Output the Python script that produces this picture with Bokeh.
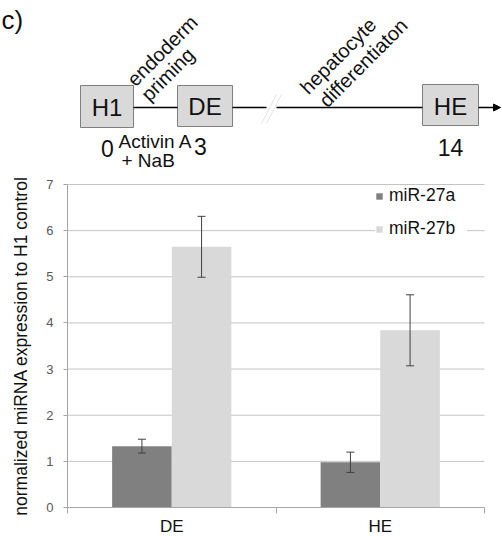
import numpy as np
from bokeh.plotting import figure
from bokeh.models import (Range1d, ColumnDataSource, Whisker, TeeHead, Legend, LegendItem,
                          FixedTicker, Arrow, NormalHead, LinearAxis)
from bokeh.core.properties import value
from bokeh.embed import file_html
from bokeh.resources import INLINE

# ---------------- data ----------------
categories = ["DE", "HE"]
mir27a = [1.33, 0.98]
mir27a_err = [0.15, 0.22]
mir27b = [5.65, 3.84]
mir27b_err = [0.66, 0.77]
y_ticks = [0, 1, 2, 3, 4, 5, 6, 7]
series_names = ["miR-27a", "miR-27b"]

stages = ["H1", "DE", "HE"]
days = ["0", "3", "14"]
step_labels = ["endoderm", "priming", "hepatocyte", "differentiaton"]
treatment = ["Activin A", "+ NaB"]

FNAME = "Liberation Sans"
FONT = value(FNAME)
TXT = "#111111"
GRID = "#c4c4c4"
AXC = "#a6a6a6"

# ---------------- canvas (frame = whole page, pixel-like main ranges) ----------------
W, H = 502, 536
p = figure(width=W, height=H, x_range=Range1d(0, W), y_range=Range1d(H, 0),
           output_backend="svg", toolbar_location=None, min_border=0,
           x_axis_location=None, y_axis_location=None)
p.grid.visible = False
p.outline_line_color = None

# plot area of the bar chart (page px)
PL, PR, PT, PB = 67, 484, 184, 507
ymax = y_ticks[-1]
ncat = len(categories)
ppx = (PR - PL) / ncat
ppy = (PB - PT) / ymax
p.extra_x_ranges = {"bx": Range1d(-PL / ppx, ncat + (W - PR) / ppx)}
p.extra_y_ranges = {"by": Range1d(-(H - PB) / ppy, ymax + PT / ppy)}
B = dict(x_range_name="bx", y_range_name="by")

# grid lines
p.segment(x0=0, x1=ncat, y0=y_ticks[1:], y1=y_ticks[1:], line_color=GRID, line_width=1, **B)

idx = np.arange(ncat) + 0.5
bw = 0.286
src = ColumnDataSource(dict(
    xa=idx - bw / 2, xb=idx + bw / 2, a=mir27a, b=mir27b,
    a_up=np.array(mir27a) + np.array(mir27a_err), a_lo=np.array(mir27a) - np.array(mir27a_err),
    b_up=np.array(mir27b) + np.array(mir27b_err), b_lo=np.array(mir27b) - np.array(mir27b_err),
))
ra = p.vbar(x="xa", top="a", width=bw, source=src, fill_color="#808080", line_color=None, **B)
rb = p.vbar(x="xb", top="b", width=bw, source=src, fill_color="#d9d9d9", line_color=None, **B)

for base, up, lo in [("xa", "a_up", "a_lo"), ("xb", "b_up", "b_lo")]:
    p.add_layout(Whisker(source=src, base=base, upper=up, lower=lo, line_color="#404040",
                         line_width=1, level="overlay",
                         upper_head=TeeHead(size=8, line_color="#404040", line_width=1),
                         lower_head=TeeHead(size=8, line_color="#404040", line_width=1), **B))

# y axis
yax = LinearAxis(fixed_location=0, bounds=(0, ymax), ticker=FixedTicker(ticks=y_ticks),
                 axis_line_color=AXC, major_tick_line_color=AXC, major_tick_out=4,
                 major_tick_in=0, minor_tick_line_color=None,
                 major_label_text_font=FNAME, major_label_text_font_size="13px",
                 major_label_text_color="#595959", major_label_standoff=10,
                 axis_label="normalized miRNA expression to H1 control",
                 axis_label_text_font=FNAME, axis_label_text_font_size="17.5px",
                 axis_label_text_font_style="normal", axis_label_text_color=TXT,
                 axis_label_standoff=12, **B)
p.add_layout(yax, "left")

# x axis (labels at category centres, separator ticks between categories)
xax = LinearAxis(fixed_location=0, bounds=(0, ncat),
                 ticker=FixedTicker(ticks=list(idx), minor_ticks=list(range(ncat + 1))),
                 major_label_overrides={float(i): c for i, c in zip(idx, categories)},
                 axis_line_color=AXC, major_tick_line_color=None, major_tick_out=0,
                 major_tick_in=0, minor_tick_line_color=AXC, minor_tick_out=6, minor_tick_in=0,
                 major_label_text_font=FNAME, major_label_text_font_size="17px",
                 major_label_text_color=TXT, major_label_standoff=3, **B)
p.add_layout(xax, "below")

legend = Legend(items=[LegendItem(label=series_names[0], renderers=[ra]),
                       LegendItem(label=series_names[1], renderers=[rb])],
                location=(375, 297), glyph_width=8, glyph_height=8, label_height=20,
                label_width=78, spacing=12, padding=12, label_standoff=6,
                label_text_font=FNAME, label_text_font_size="17.5px", label_text_color=TXT,
                border_line_color=None, background_fill_color="white", background_fill_alpha=1)
p.add_layout(legend)

# ---------------- schematic ----------------
box_left = [80, 177, 422]
box_right = [133, 232, 478]
box_top = [85, 85, 84]
box_bottom = [127, 126, 125]
p.quad(left=box_left, right=box_right, top=box_top, bottom=box_bottom,
       fill_color="#d9d9d9", line_color="#7f7f7f", line_width=1)
cx = [(a + b) / 2 for a, b in zip(box_left, box_right)]
p.text(x=cx, y=[107, 106, 106], text=stages, text_font=FONT, text_font_size="24px",
       text_align="center", text_baseline="middle", text_color=TXT)

line_y = 107
p.segment(x0=[133, 232, 276], y0=[line_y] * 3, x1=[177, 266, 422], y1=[line_y] * 3,
          line_color="black", line_width=1.5)
p.segment(x0=[261, 266], y0=[123, 123], x1=[276, 281], y1=[94, 94],
          line_color="#e4e4e4", line_width=1)
p.add_layout(Arrow(end=NormalHead(size=7, fill_color="black", line_color="black"),
                   x_start=478, y_start=line_y, x_end=500, y_end=line_y,
                   line_color="black", line_width=1.5))

p.text(x=[107, 200, 450], y=[148, 146, 147], text=days, text_font=FONT,
       text_font_size="23px", text_align="center", text_baseline="middle", text_color=TXT)
p.text(x=[118, 121], y=[141, 160], text=treatment, text_font=FONT, text_font_size="19px",
       text_align="left", text_baseline="middle", text_color=TXT)
p.text(x=[130, 144, 303, 322], y=[82, 97, 90, 103], text=step_labels, text_font=FONT,
       text_font_size="20px", angle=45, angle_units="deg", text_align="left",
       text_baseline="alphabetic", text_color=TXT)
p.text(x=[1], y=[19], text=["c)"], text_font=FONT, text_font_size="26px",
       text_align="left", text_baseline="middle", text_color=TXT)

open("out.html", "w").write(file_html(p, INLINE))
